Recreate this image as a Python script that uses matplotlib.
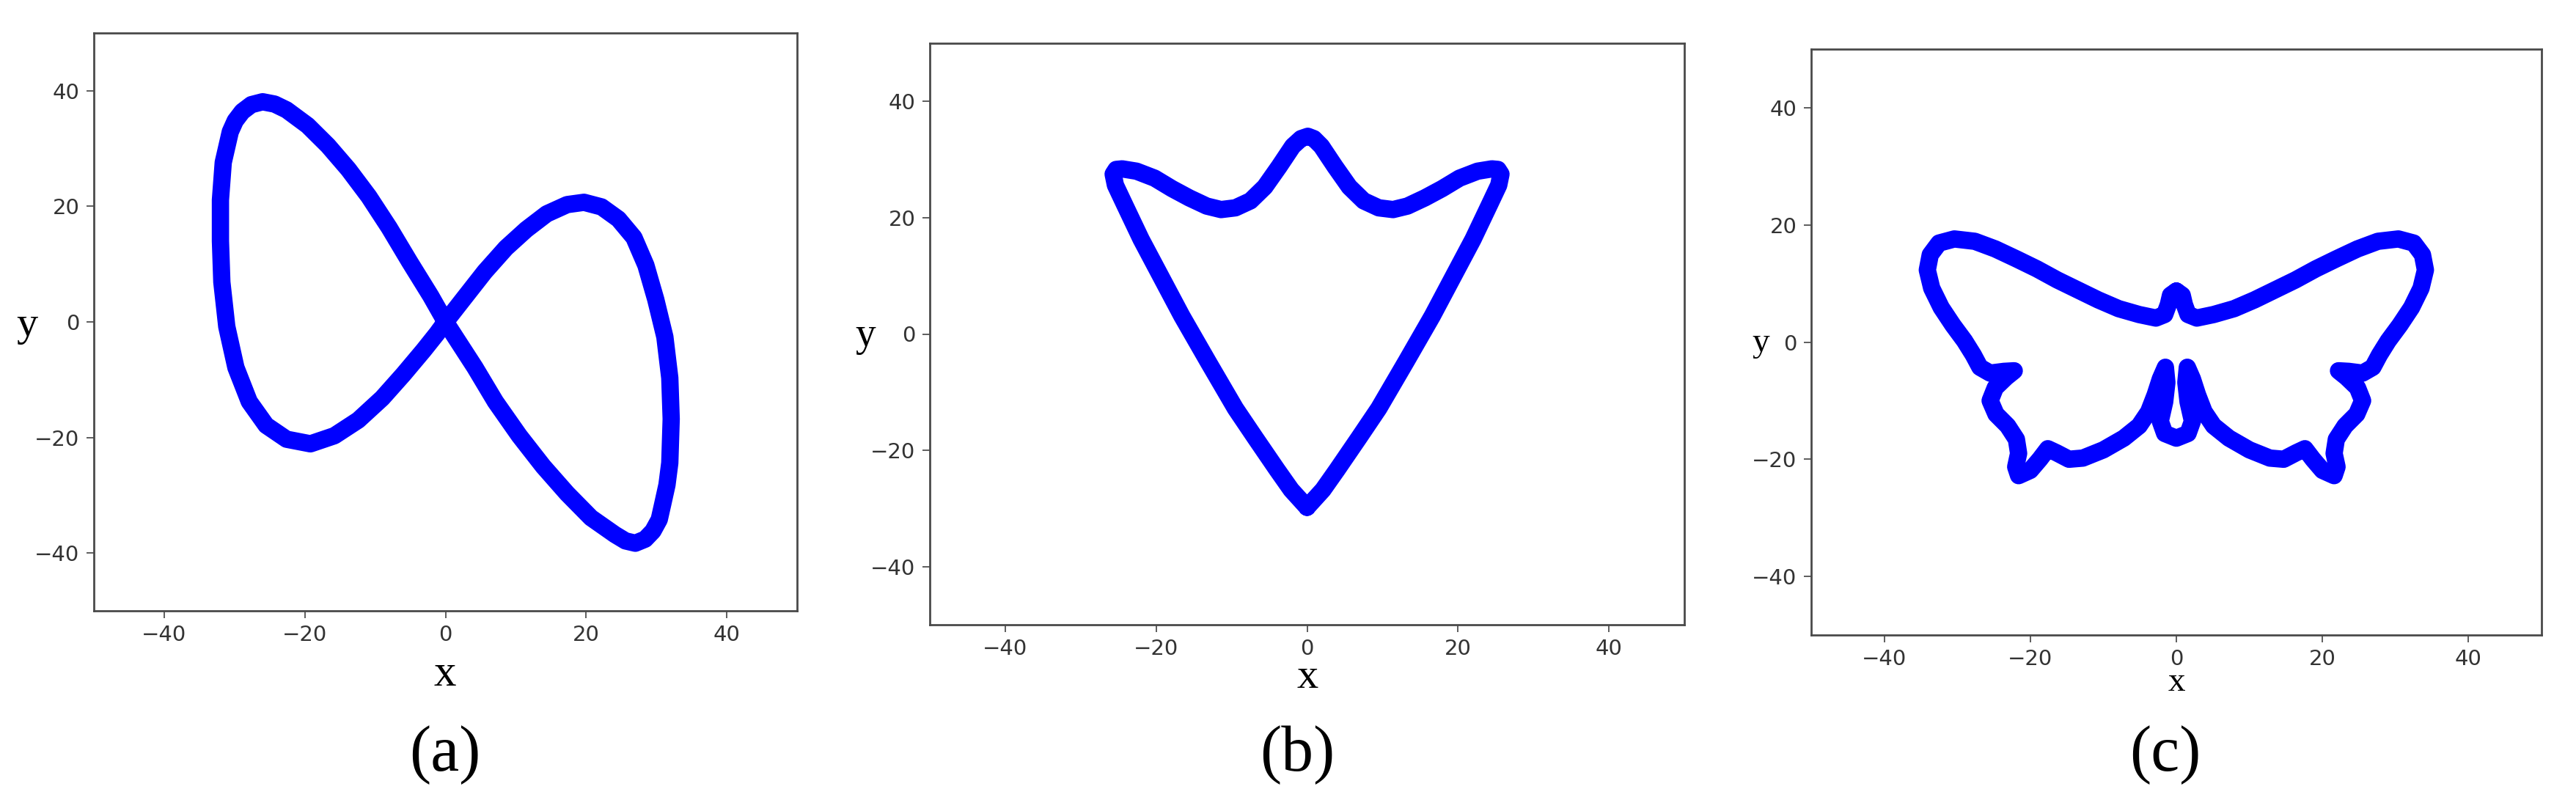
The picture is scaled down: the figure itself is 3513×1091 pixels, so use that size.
import matplotlib
matplotlib.use("Agg")
import matplotlib.pyplot as plt

# traced curves, data coordinates
# (a) figure eight
eight_x = [0.0, -2.1, -5.1, -8.0, -10.9, -13.8, -16.7, -19.6, -22.6, -24.3, -26.0, -27.6,
           -28.9, -29.9, -30.6, -31.6, -32.0, -32.0, -31.8, -31.1, -29.8, -27.9, -25.5,
           -22.6, -19.2, -15.8, -12.4, -9.0, -6.0, -3.1, -1.2, 0.0,
           2.7, 5.6, 8.6, 11.5, 14.4, 17.3, 19.7, 22.2, 24.6, 26.8, 28.5, 29.9, 31.2,
           31.9, 32.1, 31.9, 31.5, 30.9, 30.4, 29.5, 28.4, 27.0, 25.6, 24.1, 20.7, 17.3,
           13.9, 10.5, 7.1, 4.2, 1.7, 0.0]
eight_y = [0.0, 4.5, 10.4, 16.3, 21.7, 26.4, 30.5, 34.0, 36.7, 37.7, 38.1, 37.6,
           36.4, 34.8, 32.9, 27.6, 21.1, 14.0, 6.9, -0.8, -7.9, -13.8, -17.9,
           -20.3, -21.1, -19.7, -17.0, -13.2, -9.1, -4.9, -2.0, 0.0,
           4.2, 8.7, 12.8, 16.0, 18.7, 20.3, 20.7, 19.9, 17.8, 14.6, 9.8, 3.9, -2.6,
           -9.7, -16.8, -24.4, -28.2, -31.5, -34.2, -36.2, -37.6, -38.3, -37.9, -36.8,
           -33.9, -29.7, -25.0, -19.7, -13.8, -7.9, -3.2, 0.0]

# (b) arrow head
arrow_x = [0.0, -2.1, -4.0, -6.9, -9.5, -13.1, -16.6, -19.3, -22.0, -24.2, -25.4, -25.7,
           -25.3, -24.5, -22.6, -20.2, -17.9, -15.6, -13.3, -11.4, -9.5, -7.5, -5.6, -3.7,
           -1.9, -0.8, 0.1, 0.9, 1.9, 3.7, 5.6, 7.5, 9.5, 11.4, 13.3, 15.6, 17.9, 20.2,
           22.6, 24.5, 25.3, 25.7, 25.4, 24.2, 22.0, 19.3, 16.6, 13.1, 9.5, 6.9, 4.0,
           2.1, 0.0]
arrow_y = [-29.8, -26.8, -23.3, -17.8, -12.8, -4.8, 3.1, 9.7, 16.3, 22.3, 25.6, 27.5,
           28.3, 28.4, 28.0, 26.8, 25.0, 23.4, 22.0, 21.4, 21.7, 22.9, 25.3, 28.8,
           32.3, 33.6, 34.0, 33.6, 32.3, 28.8, 25.3, 22.9, 21.7, 21.4, 22.0, 23.4, 25.0,
           26.8, 28.0, 28.4, 28.3, 27.5, 25.6, 22.3, 16.3, 9.7, 3.1, -4.8, -12.8, -17.8,
           -23.3, -26.8, -29.8]

# (c) butterfly
fly_x = [0.0, 0.8, 1.1, 1.6, 2.8, 5.1, 7.9, 10.7, 13.5, 16.3, 19.1, 21.9, 24.8,
         27.6, 30.4, 32.5, 33.7, 34.1, 33.5, 32.2, 30.6, 29.0, 27.8, 26.9, 25.5,
         23.6, 22.2, 23.3, 24.8, 25.5, 24.7, 23.1, 21.9, 21.6, 22.0, 21.6, 20.0,
         18.7, 17.6, 16.4, 14.7, 12.8, 10.0, 7.2, 5.1, 3.8, 2.9, 2.2, 1.5, 1.3,
         1.6, 2.2, 1.6, 0.0,
         -1.6, -2.2, -1.6, -1.3, -1.5, -2.2, -2.9, -3.8, -5.1, -7.2, -10.0, -12.8,
         -14.7, -16.4, -17.6, -18.7, -20.0, -21.6, -22.0, -21.6, -21.9, -23.1, -24.7,
         -25.5, -24.8, -23.3, -22.2, -23.6, -25.5, -26.9, -27.8, -29.0, -30.6, -32.2,
         -33.5, -34.1, -33.7, -32.5, -30.4, -27.6, -24.8, -21.9, -19.1, -16.3, -13.5,
         -10.7, -7.9, -5.1, -2.8, -1.6, -1.1, -0.8, 0.0]
fly_y = [8.7, 8.0, 6.4, 4.7, 4.1, 4.7, 5.7, 7.2, 8.9, 10.6, 12.5, 14.2, 15.9,
         17.2, 17.6, 16.9, 14.9, 12.3, 9.2, 5.9, 2.9, 0.2, -2.2, -4.3, -5.3,
         -5.0, -4.9, -6.0, -7.8, -10.0, -12.3, -14.3, -16.6, -19.0, -21.3, -22.8, -21.9,
         -20.0, -18.2, -18.9, -20.0, -19.8, -18.4, -16.4, -14.3, -11.9, -9.0, -6.3, -4.3, -6.9,
         -10.2, -13.5, -15.6, -16.4,
         -15.6, -13.5, -10.2, -6.9, -4.3, -6.3, -9.0, -11.9, -14.3, -16.4, -18.4, -19.8,
         -20.0, -18.9, -18.2, -20.0, -21.9, -22.8, -21.3, -19.0, -16.6, -14.3, -12.3,
         -10.0, -7.8, -6.0, -4.9, -5.0, -5.3, -4.3, -2.2, 0.2, 2.9, 5.9,
         9.2, 12.3, 14.9, 16.9, 17.6, 17.2, 15.9, 14.2, 12.5, 10.6, 8.9,
         7.2, 5.7, 4.7, 4.1, 4.7, 6.4, 8.0, 8.7]

curves = [(eight_x, eight_y), (arrow_x, arrow_y), (fly_x, fly_y)]
ticks = [-40, -20, 0, 20, 40]
captions = ["(a)", "(b)", "(c)"]

W, H = 3513, 1091
fig = plt.figure(figsize=(W / 100, H / 100), dpi=100)

# axes boxes in pixels: left, right, top, bottom
boxes = [(128, 1087, 45, 833), (1268, 2297, 59, 852), (2470, 3466, 67, 866)]
xlab_pos = [(607, 920, 44), (1783, 924, 42), (2968, 931, 34)]
ylab_pos = [(37, 444, 42), (1180, 458, 40), (2401, 468, 34)]
cap_pos = [(607, 1030), (1769, 1030), (2953, 1030)]

serif = "Liberation Serif"

for i, (cx, cy) in enumerate(curves):
    l, r, t, b = boxes[i]
    ax = fig.add_axes([l / W, 1 - b / H, (r - l) / W, (b - t) / H])
    ax.plot(cx, cy, color="#0000ff", lw=17, solid_capstyle="round",
            solid_joinstyle="round")
    ax.set_xlim(-50, 50)
    ax.set_ylim(-50, 50)
    ax.set_xticks(ticks)
    ax.set_yticks(ticks)
    ax.tick_params(length=7, width=1.3, color="#505050", labelsize=21,
                   labelcolor="#333333", pad=7)
    for s in ax.spines.values():
        s.set_color("#4a4a4a")
        s.set_linewidth(2)

    x0, y0, fs = xlab_pos[i]
    fig.text(x0 / W, 1 - y0 / H, "x", family=serif, fontsize=fs,
             ha="center", va="center")
    x0, y0, fs = ylab_pos[i]
    fig.text(x0 / W, 1 - y0 / H, "y", family=serif, fontsize=fs,
             ha="center", va="center")
    x0, y0 = cap_pos[i]
    fig.text(x0 / W, 1 - y0 / H, captions[i], family=serif, fontsize=63,
             ha="center", va="center")

fig.savefig("out.png", dpi=100, facecolor="white")
